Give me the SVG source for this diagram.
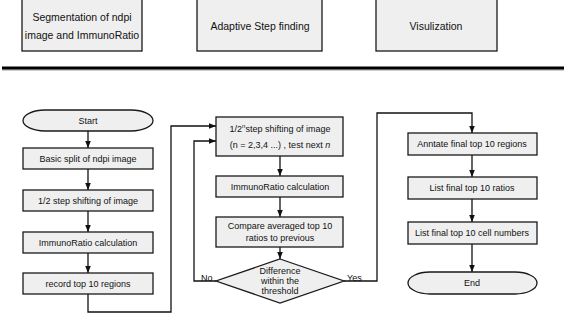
<svg xmlns="http://www.w3.org/2000/svg" width="566" height="314" viewBox="0 0 566 314">
<style>
.box{fill:#efefef;stroke:#1a1a1a;stroke-width:1.3}
.t{font-family:"Liberation Sans",Arial,sans-serif;font-size:9px;fill:#111;text-anchor:middle;dominant-baseline:central}
.tt{font-family:"Liberation Sans",Arial,sans-serif;font-size:10.5px;fill:#111;text-anchor:middle;dominant-baseline:central}
.lbl{font-family:"Liberation Sans",Arial,sans-serif;font-size:9px;fill:#111;dominant-baseline:central}
.c{fill:none;stroke:#111;stroke-width:1.3}
</style>
<defs>
<marker id="ah" viewBox="0 0 10 10" refX="10" refY="5" markerWidth="7" markerHeight="7" markerUnits="userSpaceOnUse" orient="auto">
<path d="M0,1 L10,5 L0,9 z" fill="#111"/>
</marker>
</defs>
<rect x="0" y="0" width="566" height="314" fill="#fff"/>
<g id="hdr1"><rect class="box" x="22" y="-2" width="120" height="53"/><text class="tt" x="82" y="17">Segmentation of ndpi</text><text class="tt" x="82" y="35">image and ImmunoRatio</text></g>
<g id="hdr2"><rect class="box" x="197" y="-2" width="125" height="53"/><text class="tt" x="260" y="26">Adaptive Step finding</text></g>
<g id="hdr3"><rect class="box" x="376" y="-2" width="121" height="53"/><text class="tt" x="436" y="26">Visulization</text></g>
<g id="divider"><line x1="2" y1="70" x2="564" y2="70" stroke="#ccc" stroke-width="2"/><line x1="2" y1="68" x2="564" y2="68" stroke="#000" stroke-width="3"/></g>

<g id="connectors">
<path class="c" marker-end="url(#ah)" d="M88,131 V148"/>
<path class="c" marker-end="url(#ah)" d="M88,169 V190"/>
<path class="c" marker-end="url(#ah)" d="M88,211 V232"/>
<path class="c" marker-end="url(#ah)" d="M88,253 V273"/>
<path class="c" marker-end="url(#ah)" d="M88,294 V312 H171 V126 H216"/>
<path class="c" marker-end="url(#ah)" d="M280,156 V176"/>
<path class="c" marker-end="url(#ah)" d="M280,197 V217"/>
<path class="c" marker-end="url(#ah)" d="M280,247 V259"/>
<path class="c" marker-end="url(#ah)" d="M216,281 H194 V141 H216"/>
<path class="c" marker-end="url(#ah)" d="M344,281 H377 V113 H472 V133"/>
<path class="c" marker-end="url(#ah)" d="M472,155 V177"/>
<path class="c" marker-end="url(#ah)" d="M472,199 V222"/>
<path class="c" marker-end="url(#ah)" d="M472,244 V272"/>
<text class="lbl" x="201" y="278">No</text>
<text class="lbl" x="347" y="278">Yes</text>
</g>

<g id="start"><rect class="box" x="23" y="110" width="130" height="21" rx="22" ry="10.5"/><text class="t" x="88" y="120.5">Start</text></g>
<g id="split"><rect class="box" x="23" y="148" width="130" height="21"/><text class="t" x="88" y="158.5">Basic split of ndpi image</text></g>
<g id="half"><rect class="box" x="23" y="190" width="130" height="21"/><text class="t" x="88" y="200.5">1/2 step shifting of image</text></g>
<g id="ir1"><rect class="box" x="23" y="232" width="130" height="21"/><text class="t" x="88" y="242.5">ImmunoRatio calculation</text></g>
<g id="record"><rect class="box" x="23" y="273" width="130" height="21"/><text class="t" x="88" y="283.5">record top 10 regions</text></g>

<g id="shiftn"><rect class="box" x="216" y="117" width="127" height="39"/><text class="t" x="280" y="129">1/2<tspan font-size="6" dy="-3">n</tspan><tspan dy="3">step shifting of image</tspan></text><text class="t" x="280" y="145">(n = 2,3,4 ...) , test next <tspan font-style="italic">n</tspan></text></g>
<g id="ir2"><rect class="box" x="216" y="176" width="127" height="21"/><text class="t" x="280" y="186.5">ImmunoRatio calculation</text></g>
<g id="compare"><rect class="box" x="216" y="217" width="127" height="30"/><text class="t" x="280" y="226">Compare averaged top 10</text><text class="t" x="280" y="238">ratios to previous</text></g>
<g id="decision"><polygon class="box" points="280,259 344,281 280,303 216,281"/><text class="t" x="280" y="271">Difference</text><text class="t" x="280" y="281">within the</text><text class="t" x="280" y="291">threshold</text></g>

<g id="annotate"><rect class="box" x="408" y="133" width="129" height="22"/><text class="t" x="472" y="144">Anntate final top 10 regions</text></g>
<g id="ratios"><rect class="box" x="408" y="177" width="129" height="22"/><text class="t" x="472" y="188">List final top 10 ratios</text></g>
<g id="cells"><rect class="box" x="408" y="222" width="129" height="22"/><text class="t" x="472" y="233">List final top 10 cell numbers</text></g>
<g id="end"><rect class="box" x="408" y="272" width="129" height="22" rx="22" ry="11"/><text class="t" x="472" y="283">End</text></g>
</svg>
